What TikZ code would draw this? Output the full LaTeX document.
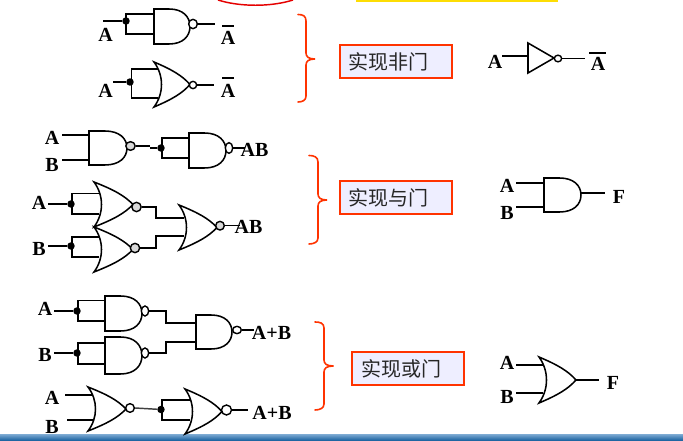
\documentclass[tikz,border=0pt]{standalone}
\usepackage{fontspec}
\setmainfont{Liberation Serif}
\newfontfamily\cjkf{Noto Sans CJK SC}
\usetikzlibrary{shapes.geometric}
\definecolor{brc}{HTML}{FF3300}
\definecolor{boxf}{HTML}{EEEEFF}
\definecolor{bandtop}{HTML}{6FA0CC}
\definecolor{bandbot}{HTML}{0F5A9A}
\tikzset{
  wire/.style={line width=1.1pt,black},
  gatebody/.style={line width=1.15pt,black,line join=miter},
  lab/.style={font=\fontsize{15}{15}\selectfont\bfseries,inner sep=0pt,text=black},
  bub/.style={ellipse,draw=black,line width=1.05pt,fill=white,inner sep=0pt},
  dotj/.style={circle,fill=black,inner sep=0pt,minimum size=5.6pt},
  brace/.style={line width=1.2pt,brc,line cap=round},
  tbox/.style={draw=brc,line width=1.4pt,fill=boxf,inner xsep=6.6pt,inner ysep=0pt,anchor=north west,text width=70.8pt,align=left,minimum height=24.75pt,font=\cjkf\fontsize{15}{15}\selectfont,text=black!85}
}
% #1 name, #2 left #3 top #4 right #5 bottom
\newcommand{\andshape}[5]{%
  \pgfmathsetmacro{\gm}{#2+0.42*(#4-#2)}%
  \pgfmathsetmacro{\gy}{(#3+#5)/2}%
  \pgfmathsetmacro{\gca}{#2+0.80*(#4-#2)}%
  \draw[gatebody] (#2,#3) -- (\gm,#3) .. controls (\gca,#3) and (#4,#3+0.22*#5-0.22*#3) .. (#4,\gy)
     .. controls (#4,#5-0.22*#5+0.22*#3) and (\gca,#5) .. (\gm,#5) -- (#2,#5) -- cycle;
  \coordinate (#1-w) at (#2,\gy);
  \coordinate (#1-e) at (#4,\gy);
}
\newcommand{\orshape}[5]{%
  \pgfmathsetmacro{\gy}{(#3+#5)/2}%
  \pgfmathsetmacro{\gw}{#4-#2}%
  \pgfmathsetmacro{\gh}{#5-#3}%
  \draw[gatebody] (#2,#3) .. controls (#2+0.5*\gw,#3+0.17*\gh) and (#4-0.22*\gw,\gy-0.2*\gh) .. (#4,\gy)
     .. controls (#4-0.22*\gw,\gy+0.2*\gh) and (#2+0.5*\gw,#5-0.17*\gh) .. (#2,#5)
     .. controls (#2+10,#5-0.3*\gh) and (#2+10,#3+0.3*\gh) .. (#2,#3) -- cycle;
  \coordinate (#1-w) at (#2+7,\gy);
  \coordinate (#1-e) at (#4,\gy);
}
\begin{document}
\begin{tikzpicture}[x=0.75pt,y=-0.75pt]
\useasboundingbox (0,0) rectangle (683,441);
\clip (0,0) rectangle (683,441);
\fill[white] (0,0) rectangle (683,441);
% top decorations and bottom band
\draw[line width=1.1pt,red!90!black] (218,0) .. controls (240,7) and (271,7) .. (293,0);
\fill[fill=yellow!80!orange] (356,0) rectangle (558,2);
\shade[top color=bandtop,bottom color=bandbot] (0,435) rectangle (683,441);

% ---------- NOT row 1
\andshape{g1}{154}{9}{190}{44}
\node[bub,minimum width=6.5pt,minimum height=7pt] (b1) at (193,24) {};
\coordinate (c1a) at (103,21); \coordinate (o1) at (215,24);
\node[dotj] (j1) at (126,21) {};
\draw[wire] (c1a) -- (j1);
\draw[wire] (g1-w |- 0,14) -| (j1.center) -- (126,34) -- (g1-w |- 0,34);
\draw[wire] (b1.east) -- (o1);
\node[lab] (l1) at (105.5,35) {A};
\node[lab] (l2) at (228,38) {A};
\draw[line width=1.2pt] (222,26) -- (234,26);

% ---------- NOT row 2
\orshape{g2}{154}{62}{190}{107}
\node[bub,minimum width=5.5pt,minimum height=5.5pt] (b2) at (193,85) {};
\coordinate (c2a) at (113,82); \coordinate (o2) at (214,85);
\node[dotj] (j2) at (130,82) {};
\draw[wire] (c2a) -- (j2);
\draw[wire] (158,69) -- (131.5,69) -- (131.5,98) -- (158,98);
\draw[wire] (b2.east) -- (o2);
\node[lab] (l3) at (105.5,91) {A};
\node[lab] (l4) at (228,91) {A};
\draw[line width=1.2pt] (222,78) -- (234,78);

% ---------- AND by NAND
\andshape{g3}{89}{131}{127}{165}
\node[bub,fill=gray!30,minimum width=7pt,minimum height=6.5pt] (b3) at (130.5,146) {};
\coordinate (c3a) at (62,135); \coordinate (c3b) at (62,160);
\draw[wire] (c3a) -- (g3-w |- c3a);
\draw[wire] (c3b) -- (g3-w |- c3b);
\node[lab] (l5) at (52,138) {A};
\node[lab] (l6) at (52,165) {B};
\andshape{g4}{189}{133}{226}{168}
\node[bub,minimum width=5.5pt,minimum height=8pt] (b4) at (229,148) {};
\node[dotj] (j3) at (161,148) {};
\draw[wire] (b3.east) -- (138,146);
\draw[wire,line width=1.4pt] (138,146) -- (150,146);
\draw[wire] (150,148) -- (j3);
\draw[wire] (g4-w |- 0,138) -- (162,138) -- (162,158) -- (g4-w |- 0,158);
\coordinate (o4) at (245,148);
\draw[wire] (b4.east) -- (o4);
\node[lab] (l7) at (254.5,149.5) {AB};

% ---------- AND by NOR
\orshape{g5}{94}{182}{133}{227}
\node[bub,fill=gray!30,minimum width=7pt,minimum height=7pt] (b5) at (136.5,207) {};
\node[dotj] (j5) at (71,204) {};
\coordinate (c5a) at (48,204);
\draw[wire] (c5a) -- (j5);
\draw[wire] (99,193.5) -- (72,193.5) -- (72,214) -- (99,214);
\node[lab] (l8) at (39,203) {A};
\orshape{g6}{94}{227}{133}{272}
\node[bub,fill=gray!30,minimum width=7pt,minimum height=7pt] (b6) at (135,248) {};
\node[dotj] (j6) at (71,246) {};
\coordinate (c6a) at (48,246);
\draw[wire] (c6a) -- (j6);
\draw[wire] (99,237) -- (72,237) -- (72,257) -- (99,257);
\node[lab] (l9) at (39,249) {B};
\orshape{g7}{179}{205}{217}{250}
\node[bub,fill=gray!30,minimum width=6.5pt,minimum height=6.5pt] (b7) at (220,225.7) {};
\draw[wire] (b5.east) -- (156,207) -- (156,218) -- (184,218);
\draw[wire] (b6.east) -- (156,248) -- (156,236) -- (184,236);
\coordinate (o7) at (240,225.7);
\draw[wire] (b7.east) -- (o7);
\node[lab] (l10) at (248.5,226.5) {AB};

% ---------- OR by NAND
\andshape{g8}{105}{296}{142}{331}
\node[bub,minimum width=5.5pt,minimum height=7.5pt] (b8) at (145,311) {};
\node[dotj] (j8) at (77,311) {};
\coordinate (c8a) at (54,311);
\draw[wire] (c8a) -- (j8);
\draw[wire] (g8-w |- 0,300.5) -- (78,300.5) -- (78,321) -- (g8-w |- 0,321);
\node[lab] (l11) at (45,308.5) {A};
\andshape{g9}{105}{337}{142}{374}
\node[bub,minimum width=5.5pt,minimum height=7.5pt] (b9) at (145,353) {};
\node[dotj] (j9) at (77,353) {};
\coordinate (c9a) at (54,353);
\draw[wire] (c9a) -- (j9);
\draw[wire] (g9-w |- 0,343) -- (78,343) -- (78,364) -- (g9-w |- 0,364);
\node[lab] (l12) at (45,355) {B};
\andshape{g10}{196}{315}{232}{349}
\node[bub,minimum width=6.5pt,minimum height=5.5pt] (b10) at (237,330) {};
\draw[wire] (b8.east) -- (166,311) -- (166,323) -- (g10-w |- 0,323);
\draw[wire] (b9.east) -- (166,353) -- (166,342) -- (168,342) -- (g10-w |- 0,342);
\coordinate (o10) at (254,330);
\draw[wire] (b10.east) -- (o10);
\node[lab] (l13) at (271.5,332.5) {A+B};

% ---------- OR by NOR
\orshape{g11}{88}{387}{126}{431}
\node[bub,minimum width=6.5pt,minimum height=6.5pt] (b11) at (130,408) {};
\coordinate (c11a) at (65,395); \coordinate (c11b) at (67,420);
\draw[wire] (c11a) -- (93,395);
\draw[wire] (c11b) -- (93,420);
\node[lab] (l14) at (52,398) {A};
\node[lab] (l15) at (52,427) {B};
\orshape{g12}{185}{389}{222}{434}
\node[bub,minimum width=7.5pt,minimum height=7.5pt] (b12) at (226.5,410) {};
\node[dotj] (j11) at (161,409.5) {};
\draw[wire,black!75] (b11.east) -- (j11);
\draw[wire] (189.5,400) -- (162,400) -- (162,420) -- (189.5,420);
\coordinate (o12) at (248,410);
\draw[wire] (b12.east) -- (o12);
\node[lab] (l16) at (272,413) {A+B};

% ---------- braces
\draw[brace] (298,14.5) .. controls (303,14.5) and (306,16) .. (306,21) -- (306,53) .. controls (306,57) and (309,59) .. (315,59)
   .. controls (309,59) and (306,61) .. (306,65) -- (306,96) .. controls (306,100) and (303,102) .. (298,102);
\draw[brace] (309,155.5) .. controls (314,155.5) and (318,157) .. (318,162) -- (318,194) .. controls (318,198) and (321,200) .. (327,200)
   .. controls (321,200) and (318,202) .. (318,206) -- (318,238) .. controls (318,242) and (314,244) .. (309,244);
\draw[brace] (315,322) .. controls (320,322) and (324,323) .. (324,328) -- (324,360) .. controls (324,364) and (327,366) .. (333.5,366)
   .. controls (327,366) and (324,368) .. (324,372) -- (324,404) .. controls (324,408) and (320,410) .. (315,410);

% ---------- boxes
\node[tbox] (t1) at (339,44.5) {实现非门};
\node[tbox] (t2) at (339,180.5) {实现与门};
\node[tbox] (t3) at (351.3,351.3) {实现或门};

% ---------- inverter
\node[lab] (l17) at (495,62) {A};
\draw[gatebody] (528,43) -- (554,58) -- (528,73) -- cycle;
\node[bub,minimum width=5.5pt,minimum height=5pt] (b13) at (558,58.5) {};
\coordinate (c13) at (502,56); \coordinate (o13) at (585,58.5);
\draw[wire] (c13) -- (528,56);
\draw[wire] (b13.east) -- (o13);
\node[lab] (l18) at (598,64) {A};
\draw[line width=1.2pt] (589,53) -- (606,53);

% ---------- AND symbol
\andshape{g14}{544}{178}{581}{212}
\coordinate (c14a) at (516,183); \coordinate (c14b) at (516,207); \coordinate (o14) at (605,193);
\draw[wire] (c14a) -- (g14-w |- c14a);
\draw[wire] (c14b) -- (g14-w |- c14b);
\draw[wire] (581,193) -- (o14);
\node[lab] (l19) at (507,186) {A};
\node[lab] (l20) at (507,213) {B};
\node[lab] (l21) at (619,197) {F};

% ---------- OR symbol
\orshape{g15}{539}{357}{576}{403}
\coordinate (c15a) at (516,365); \coordinate (c15b) at (516,393); \coordinate (o15) at (599,380);
\draw[wire] (c15a) -- (543,365);
\draw[wire] (c15b) -- (543,393);
\draw[wire] (g15-e) -- (o15);
\node[lab] (l22) at (507,363) {A};
\node[lab] (l23) at (507,397) {B};
\node[lab] (l24) at (613,383) {F};
\end{tikzpicture}
\end{document}
